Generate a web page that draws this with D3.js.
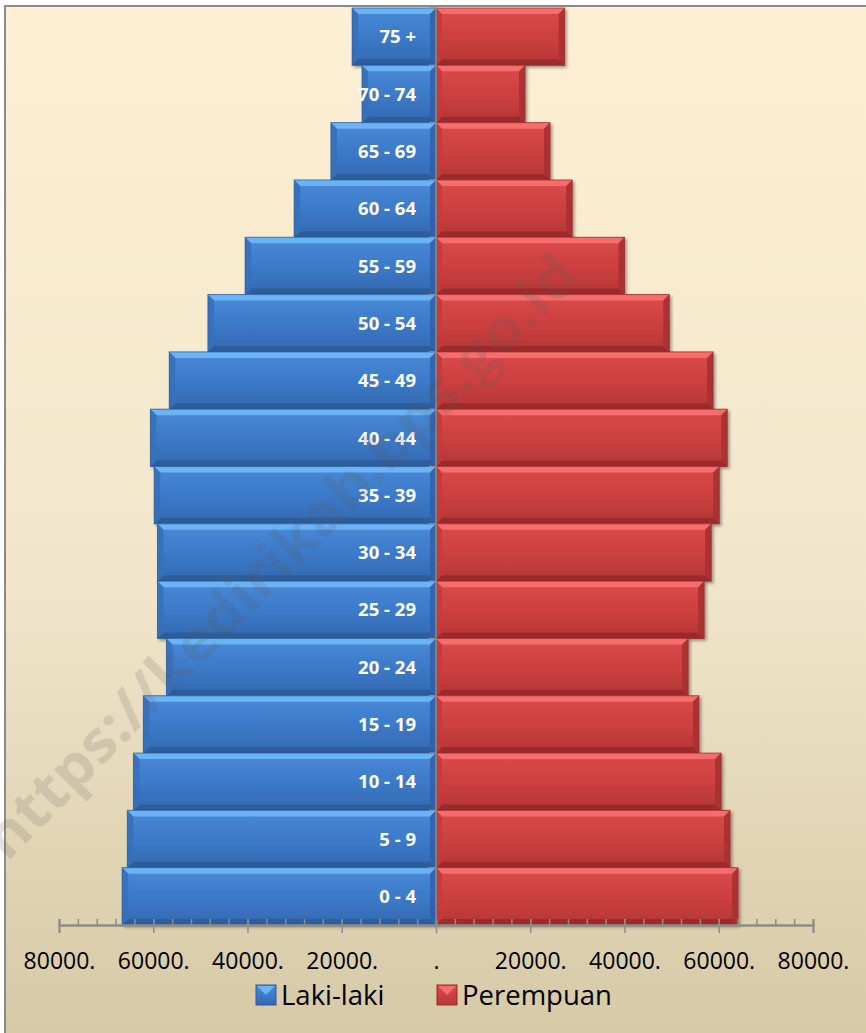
<!DOCTYPE html>
<html>
<head>
<meta charset="utf-8">
<script src="https://cdn.jsdelivr.net/npm/d3@7"></script>
<style>
  body { margin: 0; background: #ffffff; }
  svg { display: block; }
</style>
</head>
<body>
<div id="pyramid"></div>
<script>
// age groups, bottom to top
var ageGroups = ["0 - 4", "5 - 9", "10 - 14", "15 - 19", "20 - 24", "25 - 29", "30 - 34", "35 - 39",
  "40 - 44", "45 - 49", "50 - 54", "55 - 59", "60 - 64", "65 - 69", "70 - 74", "75 +"];
// population by sex
var lakiLaki = [66600, 65500, 64200, 62100, 57200, 59100, 59100, 59800,
  60600, 56600, 48400, 40500, 30100, 22300, 15700, 17800];
var perempuan = [64100, 62400, 60500, 55800, 53500, 56900, 58400, 60100,
  61800, 58800, 49500, 40000, 28900, 24200, 18900, 27300];
var majorTicks = [-80000, -60000, -40000, -20000, 0, 20000, 40000, 60000, 80000];
var seriesNames = ["Laki-laki", "Perempuan"];

var svgWidth = 866;
var svgHeight = 1033;

var svg = d3.select("#pyramid")
  .append("svg")
  .attr("width", svgWidth)
  .attr("height", svgHeight);

var defs = svg.append("defs");

// background gradient
var bg = defs.append("linearGradient").attr("id", "bg")
  .attr("x1", 0).attr("y1", 0).attr("x2", 0).attr("y2", 1);
bg.append("stop").attr("offset", "0%").attr("stop-color", "#fdefd3");
bg.append("stop").attr("offset", "55%").attr("stop-color", "#f1e6cc");
bg.append("stop").attr("offset", "100%").attr("stop-color", "#d6c9a6");

// bar gradients
function barGradient(id, light, mid, dark) {
  var g = defs.append("linearGradient").attr("id", id)
    .attr("x1", 0).attr("y1", 0).attr("x2", 0).attr("y2", 1);
  g.append("stop").attr("offset", "0%").attr("stop-color", light);
  g.append("stop").attr("offset", "45%").attr("stop-color", mid);
  g.append("stop").attr("offset", "100%").attr("stop-color", dark);
}
barGradient("gBlue", "#4a8ad6", "#3d7ccb", "#3468b0");
barGradient("gRed", "#db4a4a", "#cf4141", "#b53636");

var shadow = defs.append("filter").attr("id", "shadow")
  .attr("x", "-10%").attr("y", "-10%").attr("width", "120%").attr("height", "130%");
shadow.append("feDropShadow").attr("dx", 2).attr("dy", 2)
  .attr("stdDeviation", 1.5).attr("flood-color", "#000").attr("flood-opacity", 0.35);

// chart background and frame
svg.append("rect")
  .attr("x", 5).attr("y", 6)
  .attr("width", svgWidth).attr("height", svgHeight)
  .attr("fill", "url(#bg)")
  .attr("stroke", "#8a8a8a").attr("stroke-width", 2);

// scales
var xScale = d3.scaleLinear().domain([-80000, 80000]).range([59, 813]);
var yScale = d3.scaleBand().domain(ageGroups.slice().reverse()).range([8, 925]).padding(0);
var axisY = 925;

var colors = {
  blue: { fill: "url(#gBlue)", top: "#6ab4f6", bottom: "#2c5a96", side: "#3670bb", side2: "#2f63a8" },
  red: { fill: "url(#gRed)", top: "#f56d6d", bottom: "#982a2a", side: "#c73a3a", side2: "#a83030" }
};

var chartGroup = svg.append("g");

function drawBar(g, x0, x1, y0, y1, c) {
  var b = 6;
  var bar = g.append("g").attr("filter", "url(#shadow)");
  bar.append("rect")
    .attr("x", x0).attr("y", y0)
    .attr("width", x1 - x0).attr("height", y1 - y0)
    .attr("fill", c.fill);
  // bevel faces
  bar.append("polygon")
    .attr("points", [[x0, y0], [x1, y0], [x1 - b, y0 + b], [x0 + b, y0 + b]].join(" "))
    .attr("fill", c.top);
  bar.append("polygon")
    .attr("points", [[x0, y1], [x1, y1], [x1 - b, y1 - b], [x0 + b, y1 - b]].join(" "))
    .attr("fill", c.bottom).attr("opacity", 0.85);
  bar.append("polygon")
    .attr("points", [[x0, y0], [x0 + b, y0 + b], [x0 + b, y1 - b], [x0, y1]].join(" "))
    .attr("fill", c.side).attr("opacity", 0.9);
  bar.append("polygon")
    .attr("points", [[x1, y0], [x1 - b, y0 + b], [x1 - b, y1 - b], [x1, y1]].join(" "))
    .attr("fill", c.side2).attr("opacity", 0.9);
  bar.append("rect")
    .attr("x", x0).attr("y", y0)
    .attr("width", x1 - x0).attr("height", y1 - y0)
    .attr("fill", "none").attr("stroke", c.bottom).attr("stroke-width", 1).attr("opacity", 0.7);
}

// draw from top to bottom so lower bars sit on top
ageGroups.slice().reverse().forEach(function(age) {
  var i = ageGroups.indexOf(age);
  var y0 = yScale(age);
  var y1 = y0 + yScale.bandwidth();
  drawBar(chartGroup, xScale(-lakiLaki[i]), xScale(0), y0, y1, colors.blue);
  drawBar(chartGroup, xScale(0), xScale(perempuan[i]), y0, y1, colors.red);
});

// category axis line at zero
chartGroup.append("line")
  .attr("x1", xScale(0)).attr("x2", xScale(0))
  .attr("y1", 8).attr("y2", axisY)
  .attr("stroke", "#8c8c8c").attr("stroke-width", 1.5);
chartGroup.selectAll(".catTick").data(ageGroups)
  .enter().append("line")
  .attr("class", "catTick")
  .attr("x1", xScale(0) - 7).attr("x2", xScale(0))
  .attr("y1", function(d) { return yScale(d); })
  .attr("y2", function(d) { return yScale(d); })
  .attr("stroke", "#8c8c8c").attr("stroke-width", 1.5);

// age labels
chartGroup.selectAll(".ageLabel").data(ageGroups)
  .enter().append("text")
  .attr("class", "ageLabel")
  .attr("x", 416)
  .attr("y", function(d) { return yScale(d) + yScale.bandwidth() / 2; })
  .attr("dy", "0.36em")
  .attr("text-anchor", "end")
  .style("font-family", "'Open Sans', sans-serif")
  .style("font-weight", "bold")
  .style("font-size", "18.5px")
  .attr("fill", "#ffffff")
  .text(function(d) { return d; });

// minor ticks (above the axis line)
var minorTicks = d3.range(-80000, 80001, 4000);
var minorAxis = d3.axisTop(xScale).tickValues(minorTicks).tickSize(6).tickFormat("");
var minorG = svg.append("g").attr("transform", "translate(0," + axisY + ")").call(minorAxis);

// major ticks + labels
var bottomAxis = d3.axisBottom(xScale).tickValues(majorTicks).tickSize(8).tickPadding(20)
  .tickFormat(function(d) { return d === 0 ? "." : Math.abs(d) + "."; });
var majorG = svg.append("g").attr("transform", "translate(0," + axisY + ")").call(bottomAxis);
majorG.selectAll(".tick line").attr("y1", -6);

[minorG, majorG].forEach(function(g) {
  g.select(".domain").attr("stroke", "#8c8c8c").attr("stroke-width", 2);
  g.selectAll(".tick line").attr("stroke", "#8c8c8c").attr("stroke-width", 1.5);
});
majorG.selectAll(".tick text")
  .attr("fill", "#000")
  .style("font-family", "'Open Sans', sans-serif")
  .style("font-size", "23px");

// legend
var legendItems = [
  { name: seriesNames[0], x: 256, c: colors.blue },
  { name: seriesNames[1], x: 437, c: colors.red }
];
var legend = svg.append("g");
legendItems.forEach(function(item) {
  var g = legend.append("g").attr("transform", "translate(" + item.x + ",985)");
  g.append("rect").attr("width", 20).attr("height", 20)
    .attr("fill", item.c.fill).attr("stroke", item.c.bottom).attr("stroke-width", 1);
  g.append("polygon").attr("points", "1,1 19,1 10,10").attr("fill", item.c.top);
  g.append("text")
    .attr("x", 25).attr("y", 10).attr("dy", "0.36em")
    .style("font-family", "'Open Sans', sans-serif")
    .style("font-size", "27.5px")
    .attr("fill", "#000")
    .text(item.name);
});

// watermark
svg.append("text")
  .attr("transform", "translate(280,556) rotate(-45.5)")
  .attr("text-anchor", "middle")
  .attr("dy", "0.35em")
  .attr("textLength", 820)
  .attr("lengthAdjust", "spacingAndGlyphs")
  .style("font-family", "'Open Sans', sans-serif")
  .style("font-weight", "bold")
  .style("font-size", "58px")
  .attr("fill", "#5a5a5a")
  .attr("opacity", 0.16)
  .text("https://kedirikab.bps.go.id");
</script>
</body>
</html>
